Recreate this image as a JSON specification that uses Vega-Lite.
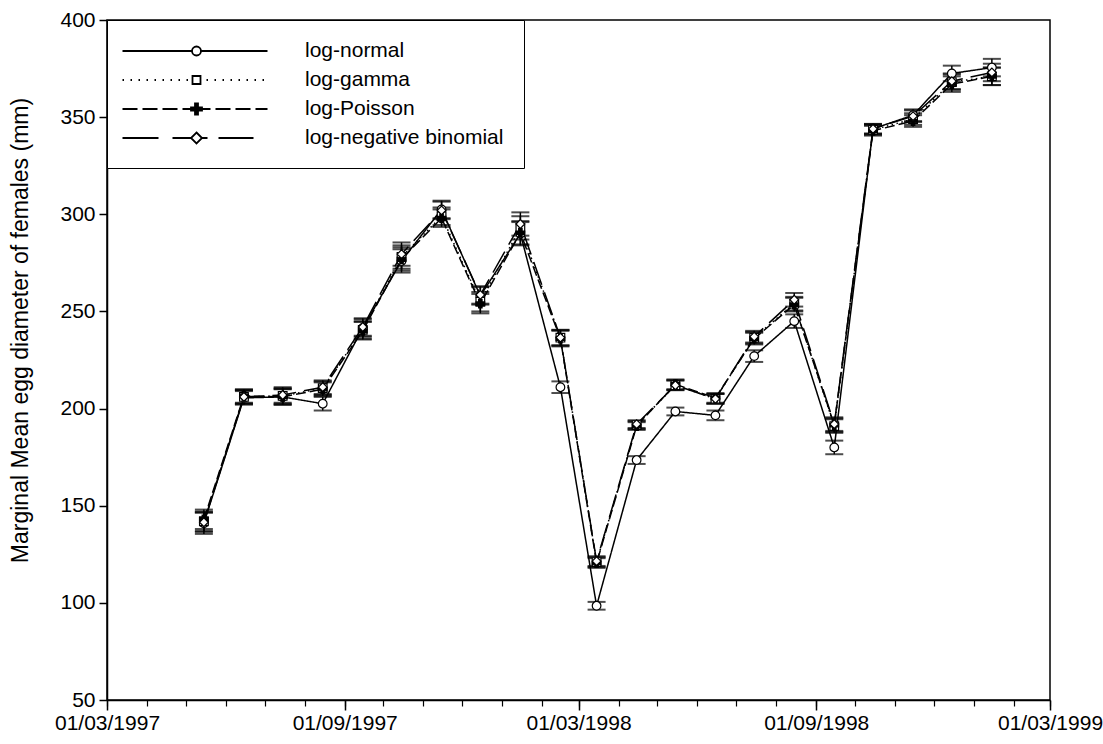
{
  "$schema": "https://vega.github.io/schema/vega-lite/v6.json",
  "width": 943,
  "height": 680,
  "autosize": {"type": "none"},
  "padding": {"left": 107, "top": 20, "right": 53, "bottom": 44},
  "background": "white",
  "config": {
    "view": {"stroke": "black", "strokeWidth": 1.5},
    "font": "Liberation Sans",
    "axis": {
      "labelFont": "Liberation Sans", "labelFontSize": 21, "labelColor": "black",
      "tickColor": "black", "tickWidth": 1.5, "domainColor": "black", "domainWidth": 1.5,
      "grid": false, "titleFont": "Liberation Sans", "titleFontSize": 23,
      "titleFontWeight": "normal", "titleColor": "black"
    }
  },
  "data": {"values": [
    {"d": "1997-05-15T00:00", "m": "log-normal", "v": 141, "lo": 135.5, "hi": 146.5},
    {"d": "1997-05-15T00:00", "m": "log-gamma", "v": 142, "lo": 137, "hi": 147},
    {"d": "1997-05-15T00:00", "m": "log-Poisson", "v": 143, "lo": 138, "hi": 148},
    {"d": "1997-05-15T00:00", "m": "log-negative binomial", "v": 141.5, "lo": 136.5, "hi": 146.5},
    {"d": "1997-06-15T00:00", "m": "log-normal", "v": 205.5, "lo": 202, "hi": 209},
    {"d": "1997-06-15T00:00", "m": "log-gamma", "v": 206, "lo": 202.5, "hi": 209.5},
    {"d": "1997-06-15T00:00", "m": "log-Poisson", "v": 206.5, "lo": 203, "hi": 210},
    {"d": "1997-06-15T00:00", "m": "log-negative binomial", "v": 206, "lo": 202.5, "hi": 209.5},
    {"d": "1997-07-15T00:00", "m": "log-normal", "v": 206, "lo": 202, "hi": 210},
    {"d": "1997-07-15T00:00", "m": "log-gamma", "v": 206.5, "lo": 202.5, "hi": 210.5},
    {"d": "1997-07-15T00:00", "m": "log-Poisson", "v": 206, "lo": 202, "hi": 210},
    {"d": "1997-07-15T00:00", "m": "log-negative binomial", "v": 207, "lo": 203, "hi": 211},
    {"d": "1997-08-15T00:00", "m": "log-normal", "v": 202.5, "lo": 199, "hi": 206},
    {"d": "1997-08-15T00:00", "m": "log-gamma", "v": 210.5, "lo": 207, "hi": 214},
    {"d": "1997-08-15T00:00", "m": "log-Poisson", "v": 210, "lo": 206.5, "hi": 213.5},
    {"d": "1997-08-15T00:00", "m": "log-negative binomial", "v": 211, "lo": 207.5, "hi": 214.5},
    {"d": "1997-09-15T00:00", "m": "log-normal", "v": 241.5, "lo": 237, "hi": 246},
    {"d": "1997-09-15T00:00", "m": "log-gamma", "v": 240.5, "lo": 236, "hi": 245},
    {"d": "1997-09-15T00:00", "m": "log-Poisson", "v": 240, "lo": 235.5, "hi": 244.5},
    {"d": "1997-09-15T00:00", "m": "log-negative binomial", "v": 242, "lo": 237.5, "hi": 246.5},
    {"d": "1997-10-15T00:00", "m": "log-normal", "v": 276, "lo": 270, "hi": 282},
    {"d": "1997-10-15T00:00", "m": "log-gamma", "v": 278, "lo": 272, "hi": 284},
    {"d": "1997-10-15T00:00", "m": "log-Poisson", "v": 277, "lo": 271, "hi": 283},
    {"d": "1997-10-15T00:00", "m": "log-negative binomial", "v": 279.5, "lo": 273.5, "hi": 285.5},
    {"d": "1997-11-15T00:00", "m": "log-normal", "v": 302.5, "lo": 298, "hi": 307},
    {"d": "1997-11-15T00:00", "m": "log-gamma", "v": 299, "lo": 294.5, "hi": 303.5},
    {"d": "1997-11-15T00:00", "m": "log-Poisson", "v": 298, "lo": 293.5, "hi": 302.5},
    {"d": "1997-11-15T00:00", "m": "log-negative binomial", "v": 302, "lo": 297.5, "hi": 306.5},
    {"d": "1997-12-15T00:00", "m": "log-normal", "v": 258, "lo": 253.5, "hi": 262.5},
    {"d": "1997-12-15T00:00", "m": "log-gamma", "v": 255, "lo": 250, "hi": 260},
    {"d": "1997-12-15T00:00", "m": "log-Poisson", "v": 254, "lo": 249, "hi": 259},
    {"d": "1997-12-15T00:00", "m": "log-negative binomial", "v": 258.5, "lo": 254, "hi": 263},
    {"d": "1998-01-15T00:00", "m": "log-normal", "v": 290, "lo": 284, "hi": 296},
    {"d": "1998-01-15T00:00", "m": "log-gamma", "v": 293, "lo": 287, "hi": 299},
    {"d": "1998-01-15T00:00", "m": "log-Poisson", "v": 290.5, "lo": 284.5, "hi": 296.5},
    {"d": "1998-01-15T00:00", "m": "log-negative binomial", "v": 295, "lo": 289, "hi": 301},
    {"d": "1998-02-15T00:00", "m": "log-normal", "v": 211, "lo": 208, "hi": 214},
    {"d": "1998-02-15T00:00", "m": "log-gamma", "v": 236.5, "lo": 232.5, "hi": 240.5},
    {"d": "1998-02-15T00:00", "m": "log-Poisson", "v": 236, "lo": 232, "hi": 240},
    {"d": "1998-02-15T00:00", "m": "log-negative binomial", "v": 236.5, "lo": 232.5, "hi": 240.5},
    {"d": "1998-03-15T00:00", "m": "log-normal", "v": 98.5, "lo": 96.5, "hi": 100.5},
    {"d": "1998-03-15T00:00", "m": "log-gamma", "v": 121, "lo": 118.5, "hi": 123.5},
    {"d": "1998-03-15T00:00", "m": "log-Poisson", "v": 120.5, "lo": 118, "hi": 123},
    {"d": "1998-03-15T00:00", "m": "log-negative binomial", "v": 121.5, "lo": 119, "hi": 124},
    {"d": "1998-04-15T00:00", "m": "log-normal", "v": 173.5, "lo": 171.5, "hi": 175.5},
    {"d": "1998-04-15T00:00", "m": "log-gamma", "v": 191.5, "lo": 189.5, "hi": 193.5},
    {"d": "1998-04-15T00:00", "m": "log-Poisson", "v": 191, "lo": 189, "hi": 193},
    {"d": "1998-04-15T00:00", "m": "log-negative binomial", "v": 192, "lo": 190, "hi": 194},
    {"d": "1998-05-15T00:00", "m": "log-normal", "v": 198.5, "lo": 196.5, "hi": 200.5},
    {"d": "1998-05-15T00:00", "m": "log-gamma", "v": 212, "lo": 209.5, "hi": 214.5},
    {"d": "1998-05-15T00:00", "m": "log-Poisson", "v": 212.5, "lo": 210, "hi": 215},
    {"d": "1998-05-15T00:00", "m": "log-negative binomial", "v": 212, "lo": 209.5, "hi": 214.5},
    {"d": "1998-06-15T00:00", "m": "log-normal", "v": 196.5, "lo": 194, "hi": 199},
    {"d": "1998-06-15T00:00", "m": "log-gamma", "v": 205, "lo": 202.5, "hi": 207.5},
    {"d": "1998-06-15T00:00", "m": "log-Poisson", "v": 205.5, "lo": 203, "hi": 208},
    {"d": "1998-06-15T00:00", "m": "log-negative binomial", "v": 205, "lo": 202.5, "hi": 207.5},
    {"d": "1998-07-15T00:00", "m": "log-normal", "v": 227, "lo": 224, "hi": 230},
    {"d": "1998-07-15T00:00", "m": "log-gamma", "v": 236.5, "lo": 233.5, "hi": 239.5},
    {"d": "1998-07-15T00:00", "m": "log-Poisson", "v": 236, "lo": 233, "hi": 239},
    {"d": "1998-07-15T00:00", "m": "log-negative binomial", "v": 237, "lo": 234, "hi": 240},
    {"d": "1998-08-15T00:00", "m": "log-normal", "v": 245, "lo": 241.5, "hi": 248.5},
    {"d": "1998-08-15T00:00", "m": "log-gamma", "v": 254, "lo": 250.5, "hi": 257.5},
    {"d": "1998-08-15T00:00", "m": "log-Poisson", "v": 253.5, "lo": 250, "hi": 257},
    {"d": "1998-08-15T00:00", "m": "log-negative binomial", "v": 256, "lo": 252.5, "hi": 259.5},
    {"d": "1998-09-15T00:00", "m": "log-normal", "v": 180, "lo": 176.5, "hi": 183.5},
    {"d": "1998-09-15T00:00", "m": "log-gamma", "v": 191, "lo": 187.5, "hi": 194.5},
    {"d": "1998-09-15T00:00", "m": "log-Poisson", "v": 191.5, "lo": 188, "hi": 195},
    {"d": "1998-09-15T00:00", "m": "log-negative binomial", "v": 192, "lo": 188.5, "hi": 195.5},
    {"d": "1998-10-15T00:00", "m": "log-normal", "v": 344, "lo": 341.5, "hi": 346.5},
    {"d": "1998-10-15T00:00", "m": "log-gamma", "v": 343.5, "lo": 341, "hi": 346},
    {"d": "1998-10-15T00:00", "m": "log-Poisson", "v": 343, "lo": 340.5, "hi": 345.5},
    {"d": "1998-10-15T00:00", "m": "log-negative binomial", "v": 344, "lo": 341.5, "hi": 346.5},
    {"d": "1998-11-15T00:00", "m": "log-normal", "v": 351, "lo": 348, "hi": 354},
    {"d": "1998-11-15T00:00", "m": "log-gamma", "v": 349, "lo": 346, "hi": 352},
    {"d": "1998-11-15T00:00", "m": "log-Poisson", "v": 348, "lo": 345, "hi": 351},
    {"d": "1998-11-15T00:00", "m": "log-negative binomial", "v": 350.5, "lo": 347.5, "hi": 353.5},
    {"d": "1998-12-15T00:00", "m": "log-normal", "v": 372.5, "lo": 368.5, "hi": 376.5},
    {"d": "1998-12-15T00:00", "m": "log-gamma", "v": 368, "lo": 364, "hi": 372},
    {"d": "1998-12-15T00:00", "m": "log-Poisson", "v": 367, "lo": 363, "hi": 371},
    {"d": "1998-12-15T00:00", "m": "log-negative binomial", "v": 368.5, "lo": 364.5, "hi": 372.5},
    {"d": "1999-01-15T00:00", "m": "log-normal", "v": 375.5, "lo": 371, "hi": 380},
    {"d": "1999-01-15T00:00", "m": "log-gamma", "v": 371, "lo": 366.5, "hi": 375.5},
    {"d": "1999-01-15T00:00", "m": "log-Poisson", "v": 371, "lo": 366.5, "hi": 375.5},
    {"d": "1999-01-15T00:00", "m": "log-negative binomial", "v": 373, "lo": 368.5, "hi": 377.5}
  ]},
  "resolve": {"axis": {"x": "independent"}},
  "layer": [
    {
      "mark": {"type": "rule", "color": "black", "strokeWidth": 1.5},
      "encoding": {
        "x": {"field": "d", "type": "temporal",
          "scale": {"domain": [{"year": 1997, "month": 3, "date": 1}, {"year": 1999, "month": 3, "date": 1}]},
          "axis": {"orient": "bottom", "tickCount": {"interval": "month", "step": 1}, "labels": false, "domain": false, "tickSize": 6, "tickWidth": 1.2, "title": null}},
        "y": {"field": "lo", "type": "quantitative", "scale": {"domain": [50, 400], "zero": false, "nice": false},
          "title": "Marginal Mean egg diameter of females (mm)",
          "axis": {"values": [50, 100, 150, 200, 250, 300, 350, 400], "tickSize": 8, "labelPadding": 4, "titlePadding": 27, "titleY": 310}},
        "y2": {"field": "hi"}
      }
    },
    {
      "mark": {"type": "tick", "orient": "horizontal", "size": 18, "thickness": 2, "color": "black"},
      "encoding": {
        "x": {"field": "d", "type": "temporal", "axis": null},
        "y": {"field": "lo", "type": "quantitative", "title": "Marginal Mean egg diameter of females (mm)"}
      }
    },
    {
      "mark": {"type": "tick", "orient": "horizontal", "size": 18, "thickness": 2, "color": "black"},
      "encoding": {
        "x": {"field": "d", "type": "temporal", "axis": null},
        "y": {"field": "hi", "type": "quantitative", "title": "Marginal Mean egg diameter of females (mm)"}
      }
    },
    {
      "mark": {"type": "line", "color": "black", "strokeWidth": 1.5},
      "encoding": {
        "x": {"field": "d", "type": "temporal", "axis": null},
        "y": {"field": "v", "type": "quantitative", "title": "Marginal Mean egg diameter of females (mm)"},
        "strokeDash": {"field": "m", "type": "nominal", "legend": null,
          "scale": {"domain": ["log-gamma", "log-normal", "log-negative binomial", "log-Poisson"],
                    "range": [[1.5, 3.5], [1, 0], [24, 8], [10, 4]]}}
      }
    },
    {
      "mark": {"type": "point", "filled": true, "size": 75, "stroke": "black", "strokeWidth": 1.2},
      "encoding": {
        "x": {"field": "d", "type": "temporal",
          "axis": {"orient": "bottom", "values": [
            {"year": 1997, "month": 3, "date": 1}, {"year": 1997, "month": 9, "date": 1},
            {"year": 1998, "month": 3, "date": 1}, {"year": 1998, "month": 9, "date": 1},
            {"year": 1999, "month": 3, "date": 1}],
            "format": "%d/%m/%Y", "tickSize": 10, "labelPadding": 2, "title": null, "labelFlush": false}},
        "y": {"field": "v", "type": "quantitative", "title": "Marginal Mean egg diameter of females (mm)"},
        "fill": {"field": "m", "type": "nominal", "legend": null,
          "scale": {"domain": ["log-Poisson", "log-normal", "log-gamma", "log-negative binomial"],
                    "range": ["black", "white", "white", "white"]}},
        "shape": {"field": "m", "type": "nominal", "legend": null,
          "scale": {"domain": ["log-gamma", "log-normal", "log-Poisson", "log-negative binomial"],
                    "range": ["square", "circle", "cross", "diamond"]}},
        "opacity": {"field": "m", "type": "nominal",
          "scale": {"domain": ["log-normal", "log-gamma", "log-Poisson", "log-negative binomial"],
                    "range": [1, 1, 1, 1]},
          "legend": {
            "orient": "top-left", "offset": 0, "title": null, "padding": 20,
            "strokeColor": "black", "fillColor": "white",
            "labelFont": "Liberation Sans", "labelFontSize": 21, "labelColor": "black",
            "labelOffset": 156, "labelLimit": 400, "symbolSize": 400, "rowPadding": 8,
            "symbolStrokeWidth": 1.8, "symbolStrokeColor": "black",
            "symbolType": {"expr": "datum.value === 'log-normal' ? 'M-1.55,0H5.4M6.3,0H12.95M5.4,0A0.45,0.45,0,1,1,6.3,0A0.45,0.45,0,1,1,5.4,0Z' : datum.value === 'log-gamma' ? 'M-1.55,0h0.15M-0.75,0h0.15M0.05,0h0.15M0.85,0h0.15M1.65,0h0.15M2.45,0h0.15M3.25,0h0.15M4.05,0h0.15M4.85,0h0.15M6.85,0h0.15M7.65,0h0.15M8.45,0h0.15M9.25,0h0.15M10.05,0h0.15M10.85,0h0.15M11.65,0h0.15M12.45,0h0.15M5.45,-0.4H6.25V0.4H5.45Z' : datum.value === 'log-Poisson' ? 'M-1.55,0H-0.05M0.45,0H1.95M2.45,0H3.95M4.45,0H7.25M7.75,0H9.25M9.75,0H11.25M11.75,0H12.95M5.7,-0.55H6V-0.15H6.4V0.15H6V0.55H5.7V0.15H5.3V-0.15H5.7Z' : 'M-1.55,0H2.05M3.45,0H5.3M6.4,0H6.95M8.05,0H11.55M5.85,-0.55L6.4,0L5.85,0.55L5.3,0Z'"},
            "symbolFillColor": {"expr": "datum.value === 'log-Poisson' ? 'black' : 'white'"}
          }}
      }
    }
  ]
}
